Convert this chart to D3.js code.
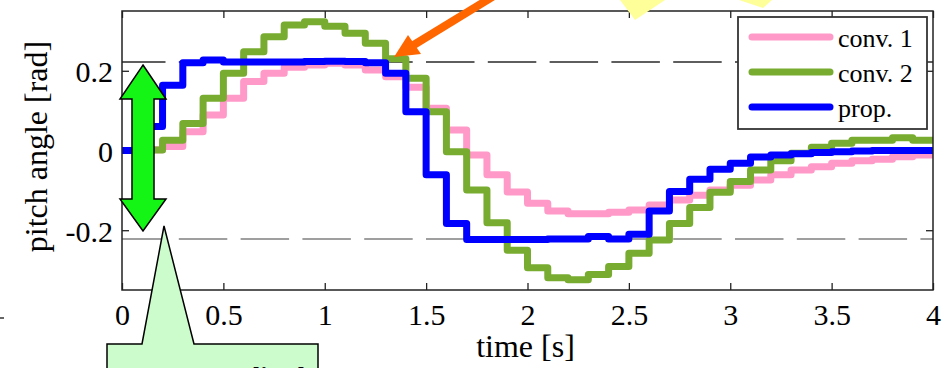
<!DOCTYPE html>
<html>
<head>
<meta charset="utf-8">
<script src="https://cdn.jsdelivr.net/npm/d3@7"></script>
<style>
  html, body { margin: 0; padding: 0; background: #ffffff; }
  svg { display: block; }
  text { font-family: "Liberation Serif", "Times New Roman", "DejaVu Serif", serif; fill: #000; }
</style>
</head>
<body>
<svg id="chart" width="945" height="368"></svg>
<script>
// Sample period of the controllers [s]
const samplePeriod = 0.1;

// Pitch angle [rad] held over each 0.1 s sample, 0 .. 3.9 s
const conv1 = [0, 0.002, 0.01, 0.047, 0.089, 0.131, 0.173, 0.194, 0.209, 0.2145,
  0.219, 0.2145, 0.202, 0.185, 0.1585, 0.106, 0.0514, -0.011, -0.061, -0.104,
  -0.1325, -0.152, -0.159, -0.159, -0.155, -0.149, -0.137, -0.124, -0.112, -0.099,
  -0.087, -0.074, -0.061, -0.049, -0.041, -0.032, -0.026, -0.022, -0.0155, -0.011];

const conv2 = [0, 0.001, 0.026, 0.068, 0.131, 0.194, 0.248, 0.2855, 0.315, 0.323,
  0.312, 0.294, 0.269, 0.23, 0.181, 0.097, -0.003, -0.099, -0.181, -0.25,
  -0.294, -0.319, -0.324, -0.311, -0.291, -0.258, -0.2245, -0.183, -0.143, -0.105,
  -0.078, -0.049, -0.026, -0.007, 0.008, 0.018, 0.026, 0.026, 0.032, 0.026];

const prop = [0, 0.06, 0.164, 0.22, 0.227, 0.222, 0.222, 0.222, 0.222, 0.223,
  0.224, 0.223, 0.22, 0.194, 0.097, -0.061, -0.183, -0.223, -0.223, -0.223,
  -0.223, -0.222, -0.222, -0.216, -0.222, -0.21, -0.152, -0.103, -0.072, -0.047,
  -0.032, -0.016, -0.011, -0.008, -0.005, -0.003, -0.001, 0, 0, 0];

// Pitch limits shown as dashed guides
const pitchLimits = [0.222, -0.222];

const seriesNames = ["conv. 1", "conv. 2", "prop."];
const seriesColors = ["#ff99c8", "#78ac30", "#0000ff"];

const xTickValues = [0, 0.5, 1, 1.5, 2, 2.5, 3, 3.5, 4];
const xTickLabels = ["0", "0.5", "1", "1.5", "2", "2.5", "3", "3.5", "4"];
const yTickValues = [0.2, 0, -0.2];
const yTickLabels = ["0.2", "0", "-0.2"];

const xLabel = "time [s]";
const yLabel = "pitch angle [rad]";
const calloutText = "Large amplitude";

// ---------------------------------------------------------------
const svg = d3.select("#chart");
const W = 945, H = 368;
const plot = { left: 122, right: 933, top: 11, bottom: 290 };

const x = d3.scaleLinear().domain([0, 4]).range([plot.left, plot.right]);
const y = d3.scaleLinear().domain([-0.35, 0.35]).range([plot.bottom, plot.top]);

// build step series: each value held to the next sample, last one held to the end
function toSteps(values) {
  const pts = values.map((v, i) => ({ t: i * samplePeriod, v }));
  pts.push({ t: values.length * samplePeriod, v: values[values.length - 1] });
  return pts;
}
const allSeries = [conv1, conv2, prop].map(toSteps);

svg.append("rect").attr("width", W).attr("height", H).attr("fill", "#fff");

// dashed pitch limits
const limitColors = ["#2a2a2a", "#808080"];
svg.append("g").selectAll("line").data(pitchLimits).join("line")
  .attr("x1", plot.left).attr("x2", plot.right)
  .attr("y1", d => y(d)).attr("y2", d => y(d))
  .attr("stroke", (d, i) => limitColors[i])
  .attr("stroke-width", 1.5)
  .attr("stroke-dasharray", "48.5,13.3")
  .attr("stroke-dashoffset", 5);

// axes with inward ticks on all four sides
const tickLen = 7;
const gBottom = svg.append("g").attr("transform", `translate(0,${plot.bottom})`)
  .call(d3.axisBottom(x).tickValues(xTickValues).tickSize(-tickLen)
    .tickFormat((d, i) => xTickLabels[i]));
const gTop = svg.append("g").attr("transform", `translate(0,${plot.top})`)
  .call(d3.axisTop(x).tickValues(xTickValues).tickSize(-tickLen).tickFormat(""));
const gLeft = svg.append("g").attr("transform", `translate(${plot.left},0)`)
  .call(d3.axisLeft(y).tickValues(yTickValues).tickSize(-tickLen)
    .tickFormat((d, i) => yTickLabels[i]));
const gRight = svg.append("g").attr("transform", `translate(${plot.right},0)`)
  .call(d3.axisRight(y).tickValues(yTickValues).tickSize(-tickLen).tickFormat(""));

[gBottom, gTop, gLeft, gRight].forEach(g => {
  g.select(".domain").remove();
  g.selectAll(".tick line").attr("stroke", "#222").attr("stroke-width", 1.3);
});

gBottom.selectAll(".tick text")
  .attr("y", 35).attr("dy", null)
  .style("font-size", "30px");
gLeft.selectAll(".tick text")
  .attr("x", -9).attr("dy", "0.36em")
  .style("font-size", "30px");

// step lines
const line = d3.line()
  .x(d => x(d.t))
  .y(d => y(d.v))
  .curve(d3.curveStepAfter);

svg.append("g").selectAll("path").data(allSeries).join("path")
  .attr("d", line)
  .attr("fill", "none")
  .attr("stroke", (d, i) => seriesColors[i])
  .attr("stroke-width", 7)
  .attr("stroke-linejoin", "round")
  .attr("stroke-linecap", "butt");

// frame
svg.append("rect")
  .attr("x", plot.left).attr("y", plot.top)
  .attr("width", plot.right - plot.left).attr("height", plot.bottom - plot.top)
  .attr("fill", "none").attr("stroke", "#222").attr("stroke-width", 1.5);

// axis titles
svg.append("text")
  .attr("x", (plot.left + plot.right) / 2 - 2).attr("y", 357)
  .attr("text-anchor", "middle")
  .style("font-size", "32px")
  .text(xLabel);

svg.append("text")
  .attr("transform", `translate(47,${(plot.top + plot.bottom) / 2 - 4}) rotate(-90)`)
  .attr("text-anchor", "middle")
  .style("font-size", "32px")
  .text(yLabel);

// legend
const legend = svg.append("g").attr("transform", "translate(738,17)");
legend.append("rect").attr("width", 189).attr("height", 112)
  .attr("fill", "#fff").attr("stroke", "#333").attr("stroke-width", 1.8);
const rows = legend.selectAll("g.row").data(seriesNames).join("g")
  .attr("class", "row")
  .attr("transform", (d, i) => `translate(0,${20 + i * 35})`);
rows.append("line")
  .attr("x1", 14).attr("x2", 92)
  .attr("stroke", (d, i) => seriesColors[i])
  .attr("stroke-width", 7)
  .attr("stroke-linecap", "round");
rows.append("text")
  .attr("x", 100).attr("y", 10)
  .style("font-size", "26px")
  .text(d => d);

// overlay annotations
// double-headed amplitude arrow
const arrowPts = [
  [143, 65], [166, 99], [154, 99], [154, 199], [166, 199], [143, 231],
  [120, 199], [132, 199], [132, 99], [120, 99]
];
svg.append("polygon")
  .attr("points", arrowPts.map(p => p.join(",")).join(" "))
  .attr("fill", "#15f515").attr("stroke", "#000").attr("stroke-width", 1.5)
  .attr("stroke-linejoin", "miter");

// callout box; its caption runs on below the lower edge of the page
const calloutPts = [
  [107, 344], [142, 344], [164, 226], [194, 344], [318, 344], [318, 400], [107, 400]
];
svg.append("polygon")
  .attr("points", calloutPts.map(p => p.join(",")).join(" "))
  .attr("fill", "#ccfccc").attr("stroke", "#000").attr("stroke-width", 1.5);
svg.append("text")
  .attr("x", 131).attr("y", 385)
  .style("font-size", "26px").style("font-weight", "bold")
  .text(calloutText);

// orange pointer arrow
svg.append("line")
  .attr("x1", 502).attr("y1", -9).attr("x2", 412).attr("y2", 46)
  .attr("stroke", "#ff6600").attr("stroke-width", 8);
svg.append("polygon")
  .attr("points", "394,57 408,35 421,54")
  .attr("fill", "#ff6600");

// yellow burst shapes at the top edge
svg.append("polygon").attr("points", "620,0 635,20 665,0").attr("fill", "#ffff99");
svg.append("polygon").attr("points", "739,0 763,8 772,0").attr("fill", "#ffff99");

// small mark at the left edge
svg.append("line").attr("x1", 0).attr("x2", 4).attr("y1", 318).attr("y2", 318)
  .attr("stroke", "#000").attr("stroke-width", 1.2);
</script>
</body>
</html>
